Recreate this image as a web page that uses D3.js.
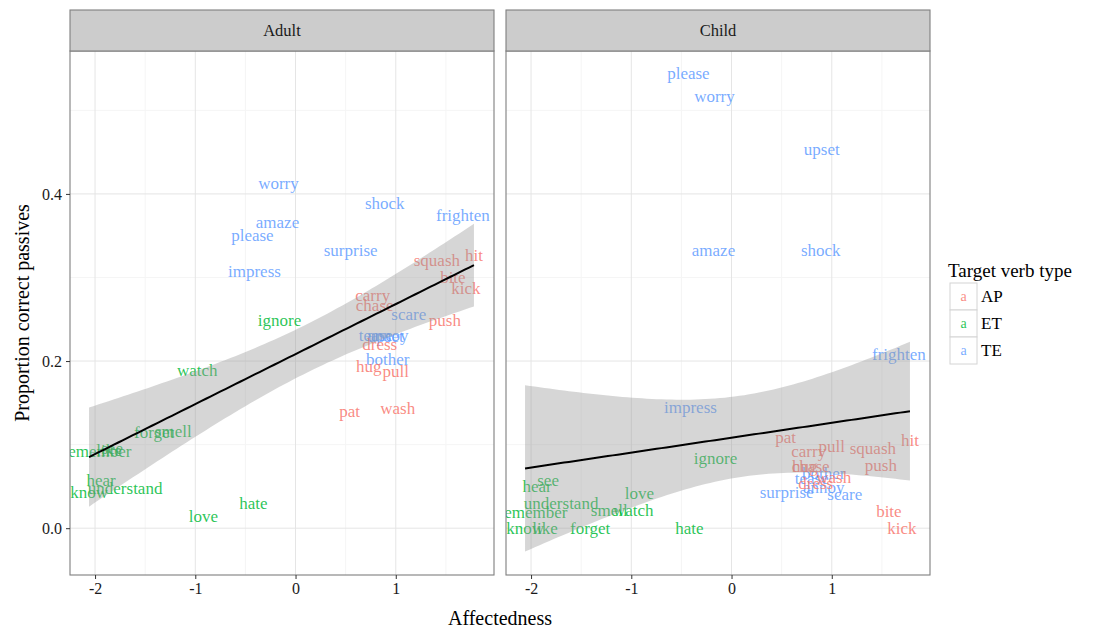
<!DOCTYPE html>
<html><head><meta charset="utf-8">
<script src="https://cdn.jsdelivr.net/npm/d3@7"></script>
<style>body{margin:0;background:#fff;} text{font-family:"Liberation Serif","DejaVu Serif",serif;}</style>
</head><body>
<svg id="chart" width="1111" height="630"></svg>
<script>
// ---- data ----
const verbs = ["worry","amaze","please","impress","shock","frighten","surprise","scare","tease","annoy","upset","bother",
               "squash","hit","bite","kick","carry","chase","push","dress","hug","pull","pat","wash",
               "ignore","watch","forget","smell","remember","like","see","hear","know","understand","love","hate"];
const verbType = ["TE","TE","TE","TE","TE","TE","TE","TE","TE","TE","TE","TE",
                  "AP","AP","AP","AP","AP","AP","AP","AP","AP","AP","AP","AP",
                  "ET","ET","ET","ET","ET","ET","ET","ET","ET","ET","ET","ET"];
const affectedness = [-0.17,-0.18,-0.43,-0.41,0.89,1.67,0.55,1.13,0.80,0.92,0.90,0.92,
                      1.41,1.78,1.57,1.70,0.77,0.79,1.49,0.84,0.73,1.00,0.54,1.02,
                      -0.16,-0.98,-1.41,-1.22,-1.98,-1.86,-1.83,-1.94,-2.06,-1.70,-0.92,-0.42];
const adultProp = [0.412,0.366,0.350,0.307,0.388,0.374,0.332,0.256,0.230,0.230,0.229,0.202,
                   0.320,0.326,0.300,0.287,0.278,0.266,0.248,0.220,0.194,0.187,0.140,0.143,
                   0.248,0.189,0.115,0.116,0.092,0.093,0.095,0.057,0.043,0.048,0.014,0.029];
const childProp = [0.516,0.332,0.544,0.144,0.332,0.208,0.043,0.040,0.059,0.049,0.453,0.066,
                   0.095,0.105,0.020,0.000,0.092,0.074,0.075,0.054,0.074,0.098,0.109,0.061,
                   0.083,0.021,0.000,0.021,0.019,0.000,0.057,0.050,0.000,0.029,0.042,0.000];
const panels = ["Adult","Child"];
const typeLevels = ["AP","ET","TE"];
const typeColors = ["#F8766D","#00BA38","#619CFF"];
const xTicks = [-2,-1,0,1];
const yTicks = [0.0,0.2,0.4];
const xMinor = [-1.5,-0.5,0.5,1.5];
const yMinor = [0.1,0.3,0.5];

// ---- layout ----
const svg = d3.select("#chart");
const panelW = 424, gap = 12, left0 = 70, stripTop = 10, stripH = 41, panelTop = 51, panelBottom = 575;
const color = d3.scaleOrdinal().domain(typeLevels).range(typeColors);
const y = d3.scaleLinear().domain([-0.056, 0.571]).range([panelBottom, panelTop]);

function lmBand(xs, ys, n) {
  const N = xs.length, xb = d3.mean(xs), yb = d3.mean(ys);
  let sxx = 0, sxy = 0;
  for (let i = 0; i < N; i++) { sxx += (xs[i]-xb)**2; sxy += (xs[i]-xb)*(ys[i]-yb); }
  const b = sxy/sxx, a = yb - b*xb;
  let sse = 0; for (let i = 0; i < N; i++) sse += (ys[i]-a-b*xs[i])**2;
  const s = Math.sqrt(sse/(N-2)), t = 2.032;
  const x0 = d3.min(xs), x1 = d3.max(xs);
  return d3.range(n).map(k => {
    const xv = x0 + (x1-x0)*k/(n-1), yh = a + b*xv;
    const se = s*Math.sqrt(1/N + (xv-xb)**2/sxx);
    return {x: xv, y: yh, lo: yh - t*se, hi: yh + t*se};
  });
}
const fmtX = v => String(v).replace("\u2212","-");
const fmtY = v => v.toFixed(1);

panels.forEach((p, pi) => {
  const L = left0 + pi*(panelW+gap);
  const x = d3.scaleLinear().domain([-2.25, 1.98]).range([L, L+panelW]);
  const props = pi === 0 ? adultProp : childProp;
  const g = svg.append("g");
  g.append("rect").attr("x",L).attr("y",panelTop).attr("width",panelW).attr("height",panelBottom-panelTop).attr("fill","#fff");
  // grid
  xMinor.forEach(v => g.append("line").attr("x1",x(v)).attr("x2",x(v)).attr("y1",panelTop).attr("y2",panelBottom).attr("stroke","#f5f5f5").attr("stroke-width",1));
  yMinor.forEach(v => g.append("line").attr("x1",L).attr("x2",L+panelW).attr("y1",y(v)).attr("y2",y(v)).attr("stroke","#f5f5f5").attr("stroke-width",1));
  xTicks.forEach(v => g.append("line").attr("x1",x(v)).attr("x2",x(v)).attr("y1",panelTop).attr("y2",panelBottom).attr("stroke","#e5e5e5").attr("stroke-width",1));
  yTicks.forEach(v => g.append("line").attr("x1",L).attr("x2",L+panelW).attr("y1",y(v)).attr("y2",y(v)).attr("stroke","#e5e5e5").attr("stroke-width",1));
  // clip
  const cid = "clip"+pi;
  svg.append("clipPath").attr("id",cid).append("rect").attr("x",L).attr("y",panelTop).attr("width",panelW).attr("height",panelBottom-panelTop);
  const inner = g.append("g").attr("clip-path",`url(#${cid})`);
  inner.selectAll("text.lab").data(verbs).enter().append("text")
    .attr("x",(d,i)=>x(affectedness[i])).attr("y",(d,i)=>y(props[i]))
    .attr("text-anchor","middle").attr("dominant-baseline","central")
    .attr("font-size",17).attr("fill",(d,i)=>color(verbType[i])).attr("fill-opacity",0.85)
    .text(d=>d);
  const band = lmBand(affectedness, props, 80);
  inner.append("path").datum(band)
    .attr("d", d3.area().x(d=>x(d.x)).y0(d=>y(d.lo)).y1(d=>y(d.hi)))
    .attr("fill","#999999").attr("fill-opacity",0.4);
  inner.append("path").datum(band)
    .attr("d", d3.line().x(d=>x(d.x)).y(d=>y(d.y)))
    .attr("fill","none").attr("stroke","#000").attr("stroke-width",2);
  // border
  g.append("rect").attr("x",L).attr("y",panelTop).attr("width",panelW).attr("height",panelBottom-panelTop)
    .attr("fill","none").attr("stroke","#7f7f7f").attr("stroke-width",1.1);
  // strip
  g.append("rect").attr("x",L).attr("y",stripTop).attr("width",panelW).attr("height",stripH)
    .attr("fill","#cccccc").attr("stroke","#7f7f7f").attr("stroke-width",1.1);
  g.append("text").attr("x",L+panelW/2).attr("y",stripTop+stripH/2).attr("text-anchor","middle")
    .attr("dominant-baseline","central").attr("font-size",16.5).attr("fill","#1a1a1a").text(p);
  // x axis
  const xa = g.append("g").attr("transform",`translate(0,${panelBottom})`)
    .call(d3.axisBottom(x).tickValues(xTicks).tickSize(4).tickPadding(4).tickFormat(fmtX));
  xa.select(".domain").remove();
  xa.selectAll("line").attr("stroke","#333");
  xa.selectAll("text").attr("font-size",16).attr("fill","#1a1a1a").attr("font-family","Liberation Serif");
  if (pi === 0) {
    const ya = g.append("g").attr("transform",`translate(${L},0)`)
      .call(d3.axisLeft(y).tickValues(yTicks).tickSize(4).tickPadding(4).tickFormat(fmtY));
    ya.select(".domain").remove();
    ya.selectAll("line").attr("stroke","#333");
    ya.selectAll("text").attr("font-size",16).attr("fill","#1a1a1a").attr("font-family","Liberation Serif");
  }
});

// axis titles
svg.append("text").attr("x",500).attr("y",618).attr("text-anchor","middle").attr("dominant-baseline","central")
  .attr("font-size",20).text("Affectedness");
svg.append("text").attr("transform",`translate(22,${(panelTop+panelBottom)/2}) rotate(-90)`)
  .attr("text-anchor","middle").attr("dominant-baseline","central").attr("font-size",20).text("Proportion correct passives");

// legend
const lg = svg.append("g");
lg.append("text").attr("x",948).attr("y",270).attr("dominant-baseline","central").attr("font-size",19).text("Target verb type");
typeLevels.forEach((t, i) => {
  const top = 283 + i*27;
  lg.append("rect").attr("x",950).attr("y",top).attr("width",27).attr("height",27).attr("fill","#fff").attr("stroke","#d4d4d4");
  lg.append("text").attr("x",963.5).attr("y",top+13.5).attr("text-anchor","middle").attr("dominant-baseline","central")
    .attr("font-size",14).attr("fill",color(t)).attr("fill-opacity",0.85).text("a");
  lg.append("text").attr("x",981).attr("y",top+13.5).attr("dominant-baseline","central").attr("font-size",17).text(t);
});
</script>
</body></html>
